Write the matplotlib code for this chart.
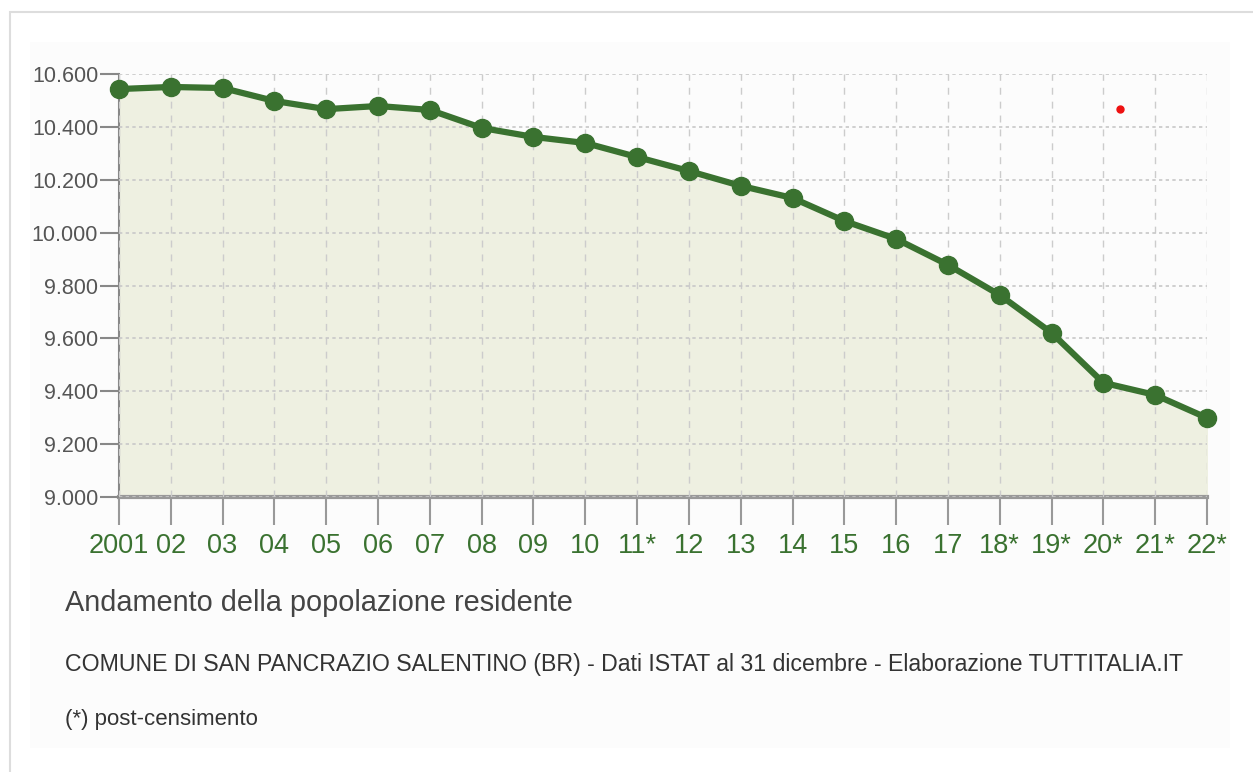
import matplotlib
matplotlib.use("Agg")
import matplotlib.pyplot as plt
from matplotlib.patches import Rectangle
from matplotlib.ticker import FuncFormatter

# dati: popolazione residente al 31 dicembre
anni = ["2001", "02", "03", "04", "05", "06", "07", "08", "09", "10", "11*",
        "12", "13", "14", "15", "16", "17", "18*", "19*", "20*", "21*", "22*"]
popolazione = [10543, 10551, 10547, 10498, 10467, 10479, 10464, 10396, 10362,
               10339, 10286, 10233, 10177, 10131, 10044, 9976, 9878, 9764,
               9621, 9432, 9386, 9299]
y_ticks = [9000, 9200, 9400, 9600, 9800, 10000, 10200, 10400, 10600]
punto_rosso = (19.33, 10467)

titolo = "Andamento della popolazione residente"
sottotitolo = ("COMUNE DI SAN PANCRAZIO SALENTINO (BR) - Dati ISTAT al 31 dicembre"
               " - Elaborazione TUTTITALIA.IT")
nota = "(*) post-censimento"

VERDE = "#3a7230"
plt.rcParams["font.family"] = ["Liberation Sans", "DejaVu Sans"]

fig = plt.figure(figsize=(12.53, 7.72), dpi=100)

# cornice e pannello di sfondo (sotto agli assi)
fig.patches.append(Rectangle((10 / 1253, -0.1), 1.2, 1 - 12 / 772 + 0.1,
                             transform=fig.transFigure, fill=False,
                             edgecolor="#dddddd", linewidth=1.5, zorder=-2))
fig.patches.append(Rectangle((30 / 1253, 1 - 748 / 772), 1200 / 1253, 706 / 772,
                             transform=fig.transFigure, facecolor="#fcfcfc",
                             edgecolor="none", zorder=-1))

ax = fig.add_axes([119 / 1253, 1 - 497 / 772, 1088 / 1253, 423 / 772])
ax.patch.set_alpha(0)
x = list(range(len(anni)))

ax.fill_between(x, popolazione, 9000, color="#eef0e1", zorder=1)
ax.plot(x, popolazione, color=VERDE, linewidth=4.5, marker="o",
        markersize=13, clip_on=False, zorder=4)
ax.plot([punto_rosso[0]], [punto_rosso[1]], marker="o", color="#ee1111",
        markersize=5, linestyle="none", zorder=5)

ax.set_xlim(0, len(anni) - 1)
ax.set_ylim(9000, 10600)
ax.set_xticks(x)
ax.set_xticklabels(anni)
ax.set_yticks(y_ticks)
ax.yaxis.set_major_formatter(FuncFormatter(lambda v, p: f"{int(v):,}".replace(",", ".")))

ax.grid(axis="y", color="#c8c8c8", linestyle=(0, (2, 2)), linewidth=1.2, zorder=2)
ax.grid(axis="x", color="#cccccc", linestyle=(0, (5, 5)), linewidth=1, zorder=2)
ax.set_axisbelow(False)

for s in ["top", "right"]:
    ax.spines[s].set_visible(False)
ax.spines["left"].set_color("#888888")
ax.spines["left"].set_linewidth(1.5)
ax.spines["bottom"].set_color("#999999")
ax.spines["bottom"].set_linewidth(3)

ax.tick_params(axis="y", length=14, width=1.5, color="#888888",
               labelsize=15.5, labelcolor="#555555", pad=1)
ax.tick_params(axis="x", length=20, width=1.5, color="#999999",
               labelsize=19.5, labelcolor=VERDE, pad=6)

fig.text(65 / 1253, 1 - 603 / 772, titolo, fontsize=20.8, color="#444444",
         va="center", ha="left")
fig.text(65 / 1253, 1 - 664 / 772, sottotitolo, fontsize=16.7, color="#333333",
         va="center", ha="left")
fig.text(65 / 1253, 1 - 720 / 772, nota, fontsize=16, color="#333333",
         va="center", ha="left")

fig.savefig("out.png", dpi=100)
